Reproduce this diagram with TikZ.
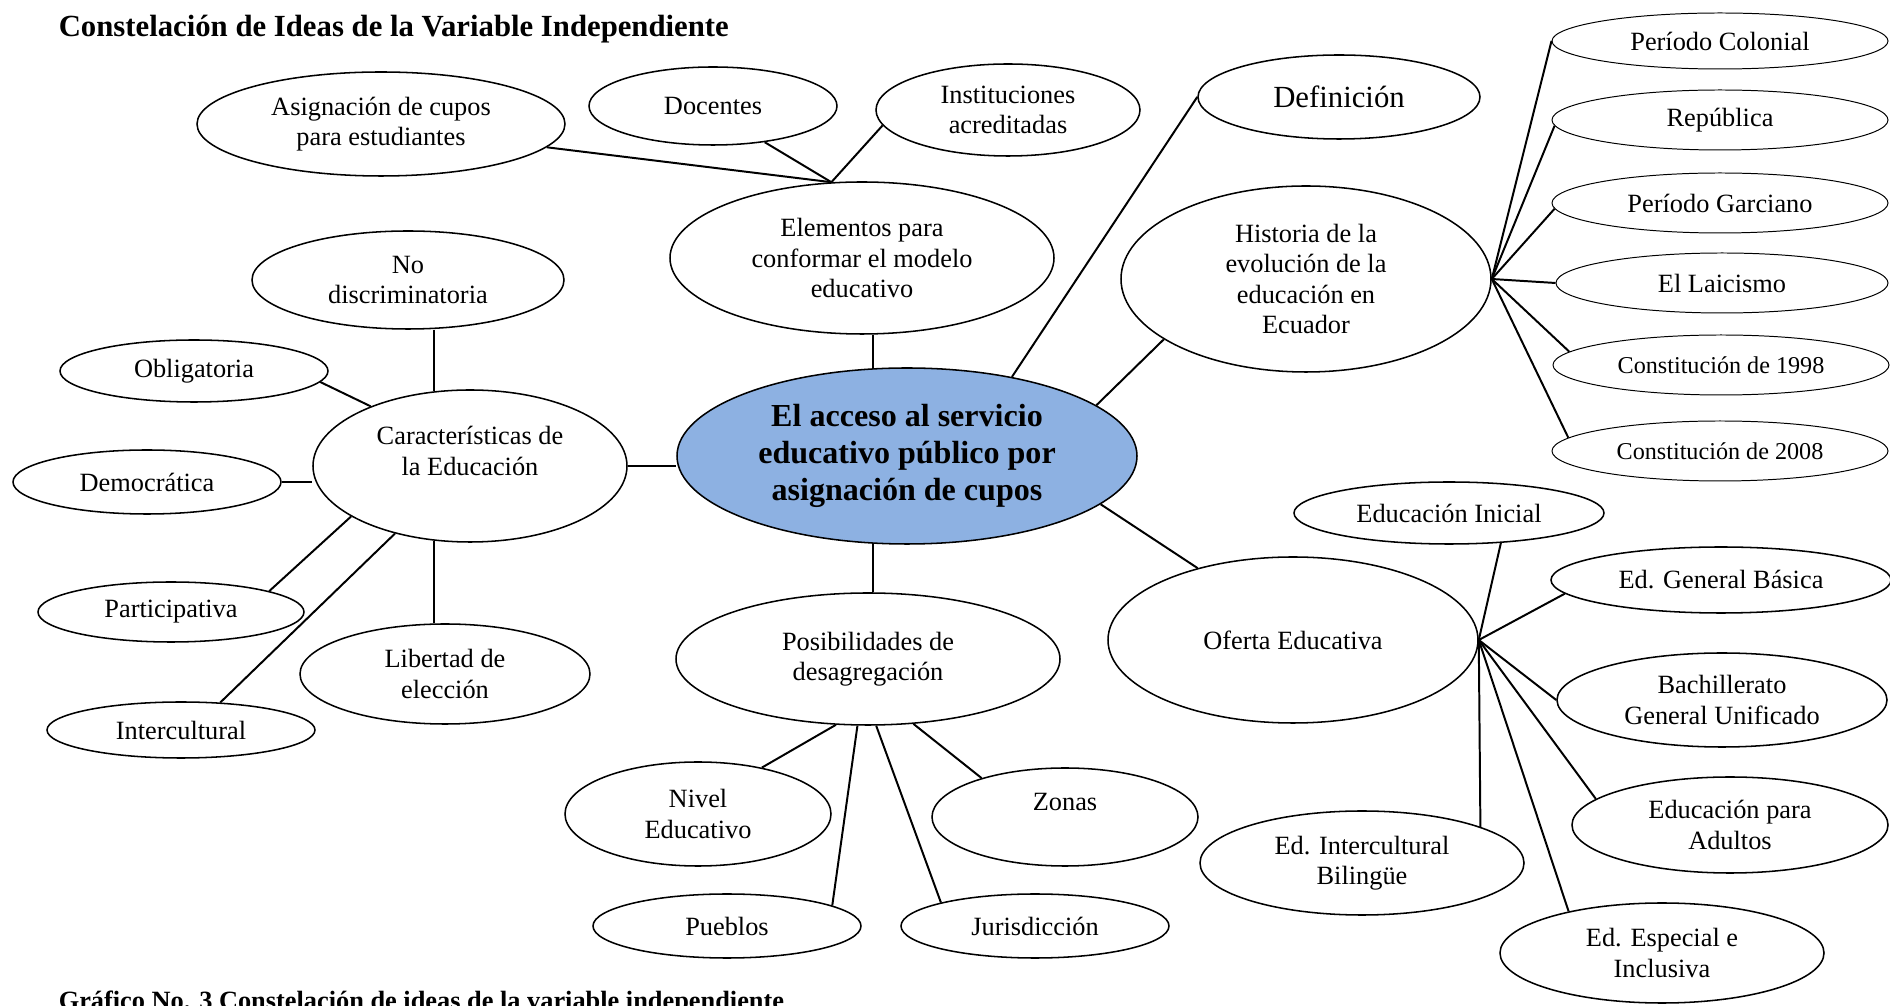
\documentclass[tikz,border=0pt]{standalone}
\usepackage{fontspec}
\setmainfont{Liberation Serif}
\usetikzlibrary{shapes.geometric}
\definecolor{cupoBlue}{RGB}{141,177,226}
\newcommand{\pxl}{0.016cm}

\begin{document}
\begin{tikzpicture}[x=\pxl, y=-\pxl, font=\fontsize{12}{13.8}\selectfont,
  oval/.style 2 args={ellipse, draw, line width=0.7pt, minimum width=#1*\pxl, minimum height=#2*\pxl, inner sep=0pt, align=center},
  thinOval/.style 2 args={oval={#1}{#2}, line width=0.45pt},
  branch/.style={line width=0.9pt}]

\useasboundingbox (0,0) rectangle (1890,1006);

% Titles
\draw (51,37) node [anchor=base west, font=\fontsize{14}{16}\selectfont\bfseries] (tituloGrafico) {Constelación de Ideas de la Variable Independiente};
\draw (51,1010) node [anchor=base west, font=\fontsize{12}{14}\selectfont\bfseries] (pieGrafico) {Gráfico No. 3 Constelación de ideas de la variable independiente};

% Centre
\draw (907,456) node [oval={460}{176}, fill=cupoBlue, font=\fontsize{14.6}{17}\selectfont\bfseries] (accesoCupos) {El acceso al servicio\\educativo público por\\asignación de cupos};

% Elementos
\draw (862,258) node [oval={384}{152}] (elementosModelo) {Elementos para\\conformar el modelo\\educativo};
\draw (381,124) node [oval={368}{104}] (asignacionCupos) {Asignación de cupos\\para estudiantes};
\draw (713,106) node [oval={248}{78}] (docentes) {Docentes};
\draw (1008,110) node [oval={264}{92}] (institucionesAcred) {Instituciones\\acreditadas};

% Definicion and Historia
\draw (1339,97) node [oval={282}{84}, font=\fontsize{14}{16}\selectfont] (definicion) {Definición};
\draw (1306,279) node [oval={370}{186}] (historiaEcuador) {Historia de la\\evolución de la\\educación en\\Ecuador};
\draw (1720,41) node [thinOval={336}{56}] (periodoColonial) {Período Colonial};
\draw (1720,120) node [thinOval={336}{60}] (republica) {República};
\draw (1720,203) node [thinOval={336}{60}] (periodoGarciano) {Período Garciano};
\draw (1722,283) node [thinOval={332}{60}] (laicismo) {El Laicismo};
\draw (1721,365) node [thinOval={336}{60}, font=\fontsize{11}{13}\selectfont] (constitucion98) {Constitución de 1998};
\draw (1720,451) node [thinOval={336}{60}, font=\fontsize{11}{13}\selectfont] (constitucion08) {Constitución de 2008};

% Caracteristicas
\draw (470,466) node [oval={314}{152}] (caracteristicas) {Características de\\la Educación\\~};
\draw (408,280) node [oval={312}{98}] (noDiscriminatoria) {No\\discriminatoria};
\draw (194,371) node [oval={268}{62}] (obligatoria) {Obligatoria};
\draw (147,482) node [oval={268}{64}] (democratica) {Democrática};
\draw (171,612) node [oval={266}{60}] (participativa) {Participativa};
\draw (181,730) node [oval={268}{56}] (intercultural) {Intercultural};
\draw (445,674) node [oval={290}{100}] (libertadEleccion) {Libertad de\\elección};

% Posibilidades
\draw (868,659) node [oval={384}{132}] (posibilidades) {Posibilidades de\\desagregación};
\draw (698,814) node [oval={266}{104}] (nivelEducativo) {Nivel\\Educativo};
\draw (1065,817) node [oval={266}{98}] (zonas) {Zonas\\~};
\draw (727,926) node [oval={268}{64}] (pueblos) {Pueblos};
\draw (1035,926) node [oval={268}{64}] (jurisdiccion) {Jurisdicción};

% Oferta
\draw (1293,640) node [oval={370}{166}] (ofertaEducativa) {Oferta Educativa};
\draw (1449,513) node [oval={310}{62}] (educacionInicial) {Educación Inicial};
\draw (1721,580) node [oval={340}{66}] (generalBasica) {Ed. General Básica};
\draw (1722,700) node [oval={330}{94}] (bachillerato) {Bachillerato\\General Unificado};
\draw (1730,825) node [oval={316}{96}] (educacionAdultos) {Educación para\\Adultos};
\draw (1662,953) node [oval={324}{100}] (especialInclusiva) {Ed. Especial e\\Inclusiva};
\draw (1362,863) node [oval={324}{104}] (interculturalBilingue) {Ed. Intercultural\\Bilingüe};

% Lines
\draw [branch] (accesoCupos.111)--(accesoCupos.111 |- elementosModelo.south);
\draw [branch] (asignacionCupos.352)--(elementosModelo.112);
\draw [branch] (docentes.325)--(elementosModelo.112);
\draw [branch] (institucionesAcred.187)--(elementosModelo.112);

\draw [branch] (accesoCupos.37)--(definicion.west);
\draw [branch] (accesoCupos.15)--(historiaEcuador.203);
\draw [branch] (historiaEcuador.east)--(periodoColonial.west);
\draw [branch] (historiaEcuador.east)--(republica.182);
\draw [branch] (historiaEcuador.east)--(periodoGarciano.182);
\draw [branch] (historiaEcuador.east)--(laicismo.west);
\draw [branch] (historiaEcuador.east)--(constitucion98.175);
\draw [branch] (historiaEcuador.east)--(constitucion08.175);

\draw [branch] (caracteristicas.east)--(caracteristicas.east -| accesoCupos.west);
\draw [branch] (caracteristicas.116)--(caracteristicas.116 |- noDiscriminatoria.south);
\draw [branch] (obligatoria.355)--(caracteristicas.149);
\draw [branch] (democratica.east)--(democratica.east -| caracteristicas.west);
\draw [branch] (participativa.12)--(caracteristicas.203);
\draw [branch] (intercultural.35)--(caracteristicas.222);
\draw [branch] (caracteristicas.244)--(caracteristicas.244 |- libertadEleccion.north);

\draw [branch] (accesoCupos.249)--(accesoCupos.249 |- posibilidades.north);
\draw [branch] (posibilidades.244)--(nivelEducativo.36);
\draw [branch] (posibilidades.261)--(pueblos.11);
\draw [branch] (posibilidades.277)--(jurisdiccion.166);
\draw [branch] (posibilidades.305)--(zonas.155);

\draw [branch] (accesoCupos.346)--(ofertaEducativa.143);
\draw [branch] (ofertaEducativa.east)--(educacionInicial.330);
\draw [branch] (ofertaEducativa.east)--(generalBasica.185);
\draw [branch] (ofertaEducativa.east)--(bachillerato.west);
\draw [branch] (ofertaEducativa.east)--(educacionAdultos.169);
\draw [branch] (ofertaEducativa.east)--(especialInclusiva.156);
\draw [branch] (ofertaEducativa.east)--(interculturalBilingue.17);
\end{tikzpicture}
\end{document}
